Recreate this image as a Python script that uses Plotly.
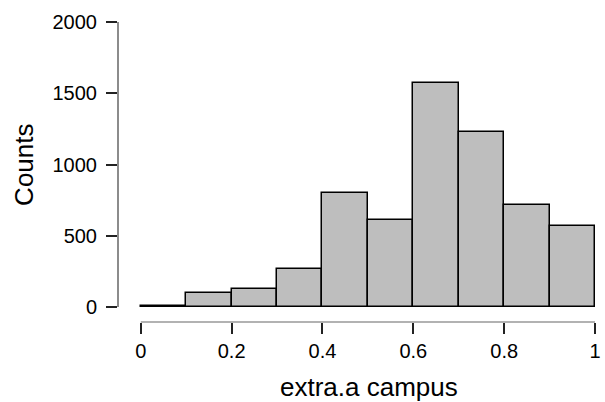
import plotly.graph_objects as go

bin_left = [0.0, 0.1, 0.2, 0.3, 0.4, 0.5, 0.6, 0.7, 0.8, 0.9]
counts = [4, 100, 130, 265, 800, 610, 1575, 1225, 715, 570]
bin_width = 0.1
x_ticks = [0, 0.2, 0.4, 0.6, 0.8, 1.0]
x_tick_labels = ["0", "0.2", "0.4", "0.6", "0.8", "1"]
y_ticks = [0, 500, 1000, 1500, 2000]
y_tick_labels = ["0", "500", "1000", "1500", "2000"]

centers = [b + bin_width / 2 for b in bin_left]

fig = go.Figure()
fig.add_trace(go.Bar(
    x=centers, y=counts, width=[bin_width] * len(counts),
    marker=dict(color="#bebebe", line=dict(color="black", width=1.5)),
    hoverinfo="skip",
))

font = "Liberation Sans, Arial, sans-serif"
fig.update_layout(
    width=605, height=402,
    margin=dict(l=118, r=4, t=22, b=80),
    paper_bgcolor="white", plot_bgcolor="white",
    showlegend=False, bargap=0,
    font=dict(family=font, size=20, color="black"),
    xaxis=dict(range=[-0.0502, 1.0044], tickvals=x_ticks, ticktext=x_tick_labels,
               ticks="outside", ticklen=11, tickwidth=2, tickcolor="#222",
               showgrid=False, zeroline=False, showline=False,
               tickfont=dict(size=20, family=font)),
    yaxis=dict(range=[-105, 2000], tickvals=y_ticks, ticktext=y_tick_labels,
               ticks="outside", ticklen=11, tickwidth=2, tickcolor="#222",
               showgrid=False, zeroline=False, showline=False,
               ticklabelstandoff=5,
               tickfont=dict(size=20, family=font)),
    shapes=[
        dict(type="line", xref="paper", yref="y", x0=0, x1=0, y0=0, y1=2000,
             line=dict(color="#666", width=1.5)),
        dict(type="line", xref="x", yref="paper", x0=0, x1=1, y0=0, y1=0,
             line=dict(color="#999", width=1.5)),
    ],
    annotations=[
        dict(text="Counts", xref="paper", yref="paper", x=-0.1967, y=0.523,
             textangle=-90, showarrow=False, font=dict(size=26, family=font),
             xanchor="center", yanchor="middle"),
        dict(text="extra.a campus", xref="paper", yref="paper", x=0.524, y=-0.2167,
             showarrow=False, font=dict(size=26, family=font),
             xanchor="center", yanchor="middle"),
    ],
)
fig.write_html("out.html", config={"displayModeBar": False},
               post_script="document.body.style.margin='0';")
